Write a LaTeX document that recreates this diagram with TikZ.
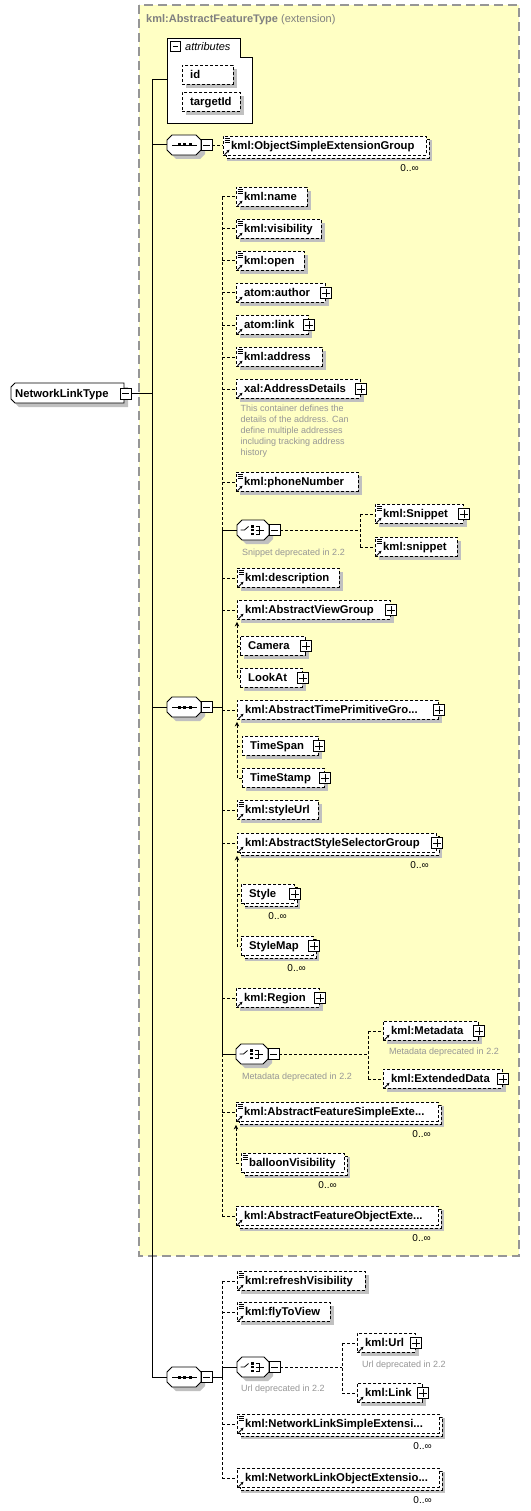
\documentclass[tikz,border=0pt]{standalone}
\usepackage{fontspec}
\setmainfont{Liberation Sans}
\usetikzlibrary{arrows.meta}
\definecolor{shc}{RGB}{192,192,192}
\definecolor{ybg}{RGB}{255,255,196}
\definecolor{ybd}{RGB}{150,150,150}
\definecolor{notec}{RGB}{150,150,150}
\definecolor{titlec}{RGB}{128,128,128}
\tikzset{
 ebox/.style={draw=black, fill=white, line width=0.9pt, dash pattern=on 3pt off 2pt, inner sep=0pt},
 dbox/.style={draw=black, fill=white, line width=0.9pt, dash pattern=on 3pt off 2pt},
 etext/.style={font=\fontsize{11.3}{13}\selectfont\bfseries, inner sep=0pt},
 notetext/.style={font=\fontsize{9}{11}\selectfont, text=notec, inner sep=0pt, align=left},
 mtext/.style={font=\fontsize{10}{12}\selectfont, inner sep=0pt},
 pbox/.style={draw=black, solid, fill=white, line width=0.9pt, minimum size=10.5pt, inner sep=0pt},
 mbox/.style={draw=black, solid, fill=white, line width=0.9pt, minimum size=11pt, inner sep=0pt},
 obox/.style={draw=black, fill=white, line width=0.9pt},
 solidc/.style={draw=black, line width=1pt},
 dashc/.style={draw=black, line width=0.9pt, dash pattern=on 3pt off 2pt},
 icon/.style={draw=black, line width=0.8pt, solid},
 subarrow/.style={dashc, {Stealth[length=4.5pt,width=4.5pt]}-},
}
\newcommand\elbox[6]{%
 \fill[shc] ({#2+4},{#3+4}) rectangle ({#4+4},{#5+4});
 \node[ebox, minimum width={#4-#2}, minimum height={#5-#3}, anchor=north west] (#1) at (#2,#3) {};
 \node[etext, anchor=base west] (#1t) at ([xshift=8pt,yshift=-4pt]#1.west) {#6};}
\newcommand\mulbox[6]{%
 \fill[shc] ({#2+4},{#3+4}) rectangle ({#4+6},{#5+6});
 \draw[dbox] ({#2+3},{#3+3}) rectangle ({#4+3},{#5+3});
 \node[ebox, minimum width={#4-#2}, minimum height={#5-#3}, anchor=north west] (#1) at (#2,#3) {};
 \node[etext, anchor=base west] (#1t) at ([xshift=8pt,yshift=-4pt]#1.west) {#6};}
\newcommand\simp[1]{%
 \fill[white] ([xshift=1pt,yshift=-0.8pt]#1.north west) rectangle ([xshift=7pt,yshift=-6.8pt]#1.north west);
 \draw[icon] ([xshift=1.5pt,yshift=-2pt]#1.north west) -- ++(5pt,0pt);
 \draw[icon] ([xshift=1.5pt,yshift=-4pt]#1.north west) -- ++(5pt,0pt);
 \draw[icon] ([xshift=1.5pt,yshift=-6pt]#1.north west) -- ++(5pt,0pt);}
\newcommand\refi[1]{\draw[icon, -{Stealth[length=3pt,width=3pt]}] ([xshift=1.5pt,yshift=1.2pt]#1.south west) -- ++(5pt,5pt);}
\newcommand\plusb[1]{%
 \node[pbox] (#1p) at (#1.east) {};
 \draw[icon] ([xshift=2pt]#1p.west) -- ([xshift=-2pt]#1p.east);
 \draw[icon] ([yshift=2pt]#1p.south) -- ([yshift=-2pt]#1p.north);}
\newcommand\mlt[1]{\node[mtext, anchor=east] at ([xshift=-8pt,yshift=-12.5pt]#1.south east) {0..∞};}
\newcommand\octa[4]{%
 \begin{scope}[shift={(#2,#3)}]
  \fill[shc] (9,4) -- ({#4-1},4) -- ({#4+4},9) -- ({#4+4},19) -- ({#4-1},24) -- (9,24) -- (4,19) -- (4,9) -- cycle;
  \draw[obox] (5,0) -- ({#4-5},0) -- (#4,5) -- (#4,15) -- ({#4-5},20) -- (5,20) -- (0,15) -- (0,5) -- cycle;
 \end{scope}
 \node[inner sep=0pt, outer sep=0pt, minimum width={#4}, minimum height=20pt, anchor=north west] (#1) at (#2,#3) {};
 \node[mbox] (#1m) at ([xshift=5.5pt]#1.east) {};
 \draw[icon] ([xshift=2.5pt]#1m.west) -- ([xshift=-2.5pt]#1m.east);}
\newcommand\seqn[3]{%
 \octa{#1}{#2}{#3}{34}
 \begin{scope}[shift={(#2,#3)}]
  \draw[icon] (5,10) -- (30,10);
  \fill (10.5,8.5) rectangle (13.5,11.5);
  \fill (16,8.5) rectangle (19,11.5);
  \fill (21.5,8.5) rectangle (24.5,11.5);
 \end{scope}}
\newcommand\choicen[3]{%
 \octa{#1}{#2}{#3}{32}
 \begin{scope}[shift={(#2,#3)}]
  \draw[icon] (3.5,10) -- (7.5,10) -- (11.5,6.5);
  \fill (14,5) rectangle (16.5,7.5);
  \fill (14,8.75) rectangle (16.5,11.25);
  \fill (14,12.5) rectangle (16.5,15);
  \draw[icon] (18.5,6) -- (22,6) -- (22,14) -- (18.5,14);
  \draw[icon] (18.5,10) -- (27,10);
 \end{scope}}
\begin{document}
\begin{tikzpicture}[x=1pt,y=-1pt]
\useasboundingbox (0,0) rectangle (530,1511);
\fill[white] (0,0) rectangle (530,1511);
% extension box
\fill[ybg] (139,5) rectangle (519,1256);
\draw[ybd, line width=1.2pt, dash pattern=on 9pt off 5pt] (139,5) rectangle (519,1256);
\node[font=\fontsize{11}{13}\selectfont, text=titlec, anchor=base west, inner sep=0pt] (title) at (146,23) {\textbf{kml:AbstractFeatureType} (extension)};
% root
\begin{scope}[shift={(11,383)}]
 \fill[shc] (8,4) -- (117,4) -- (117,24) -- (8,24) -- (4,20) -- (4,8) -- cycle;
 \draw[obox] (4,0) -- (113,0) -- (113,20) -- (4,20) -- (0,16) -- (0,4) -- cycle;
\end{scope}
\node[inner sep=0pt, outer sep=0pt, minimum width=113pt, minimum height=20pt, anchor=north west] (root) at (11,383) {};
\node[etext, anchor=base west] (roott) at (15,397) {NetworkLinkType};
\node[mbox] (rootm) at (125.5,393.5) {};
\draw[icon] ([xshift=2.5pt]rootm.west) -- ([xshift=-2.5pt]rootm.east);
% attributes
\draw[obox] (167,38) -- (240,38) -- (240,57) -- (252,57) -- (252,123) -- (167,123) -- cycle;
\node[inner sep=0pt, outer sep=0pt, minimum width=85pt, minimum height=85pt, anchor=north west] (attr) at (167,38) {};
\node[mbox, minimum size=10pt] (attrm) at (175.5,46.5) {};
\draw[icon] ([xshift=2.5pt]attrm.west) -- ([xshift=-2.5pt]attrm.east);
\node[font=\fontsize{11}{13}\selectfont\itshape, inner sep=0pt, anchor=base west] (attrt) at (185,51) {attributes};
\elbox{aid}{182}{65}{233}{84}{id}
\elbox{atid}{182}{92}{240}{111}{targetId}
% sequence 1
\seqn{seqA}{167}{135}
\mulbox{osg}{223}{136}{426}{155}{kml:ObjectSimpleExtensionGroup}\simp{osg}\refi{osg}\mlt{osg}
% sequence 2
\seqn{seqB}{167}{697}
\elbox{ename}{236}{187}{307}{206}{kml:name}\simp{ename}\refi{ename}
\elbox{evis}{236}{219}{321}{238}{kml:visibility}\simp{evis}\refi{evis}
\elbox{eopen}{236}{251}{304}{270}{kml:open}\simp{eopen}\refi{eopen}
\elbox{eauth}{236}{283}{325}{302}{atom:author}\refi{eauth}\plusb{eauth}
\elbox{elink}{236}{315}{308}{334}{atom:link}\refi{elink}\plusb{elink}
\elbox{eaddr}{236}{347}{322}{366}{kml:address}\simp{eaddr}\refi{eaddr}
\elbox{exal}{236}{379}{360}{398}{xal:AddressDetails}\refi{exal}\plusb{exal}
\node[notetext, anchor=north west] (xalnote) at (240.5,404.5) {This container defines the\\details of the address. Can\\define multiple addresses\\including tracking address\\history};
\elbox{ephone}{236}{472}{358}{491}{kml:phoneNumber}\simp{ephone}\refi{ephone}
\choicen{chA}{237}{520}
\node[notetext, anchor=west] (chAnote) at (242,553) {Snippet deprecated in 2.2};
\elbox{esnip}{375}{504}{463}{523}{kml:Snippet}\simp{esnip}\refi{esnip}\plusb{esnip}
\elbox{esnipb}{375}{537}{457}{556}{kml:snippet}\simp{esnipb}\refi{esnipb}
\elbox{edesc}{237}{568}{339}{587}{kml:description}\simp{edesc}\refi{edesc}
\elbox{eavg}{237}{600}{390}{619}{kml:AbstractViewGroup}\refi{eavg}\plusb{eavg}
\elbox{ecam}{240}{636}{305}{655}{Camera}\plusb{ecam}
\elbox{elook}{240}{668}{302}{687}{LookAt}\plusb{elook}
\elbox{eatp}{237}{700}{438}{719}{kml:AbstractTimePrimitiveGro...}\refi{eatp}\plusb{eatp}
\elbox{espan}{242}{736}{318}{755}{TimeSpan}\plusb{espan}
\elbox{estamp}{242}{768}{324}{787}{TimeStamp}\plusb{estamp}
\elbox{esurl}{237}{800}{318}{819}{kml:styleUrl}\simp{esurl}\refi{esurl}
\mulbox{eassg}{237}{833}{436}{852}{kml:AbstractStyleSelectorGroup}\refi{eassg}\plusb{eassg}\mlt{eassg}
\mulbox{estyle}{241}{884}{294}{903}{Style}\plusb{estyle}\mlt{estyle}
\mulbox{esmap}{241}{936}{313}{955}{StyleMap}\plusb{esmap}\mlt{esmap}
\elbox{eregion}{236}{988}{319}{1007}{kml:Region}\refi{eregion}\plusb{eregion}
\choicen{chB}{236}{1044}
\node[notetext, anchor=west] (chBnote) at (242,1077) {Metadata deprecated in 2.2};
\elbox{emeta}{383}{1021}{478}{1040}{kml:Metadata}\refi{emeta}\plusb{emeta}
\node[notetext, anchor=west] (metanote) at (389,1052) {Metadata deprecated in 2.2};
\elbox{eext}{383}{1069}{502}{1088}{kml:ExtendedData}\refi{eext}\plusb{eext}
\mulbox{eafse}{236}{1102}{438}{1121}{kml:AbstractFeatureSimpleExte...}\simp{eafse}\refi{eafse}\mlt{eafse}
\mulbox{eballoon}{241}{1153}{344}{1172}{balloonVisibility}\simp{eballoon}\mlt{eballoon}
\mulbox{eafoe}{236}{1206}{438}{1225}{kml:AbstractFeatureObjectExte...}\refi{eafoe}\mlt{eafoe}
% sequence 3
\seqn{seqC}{167}{1367}
\elbox{erefr}{237}{1271}{365}{1290}{kml:refreshVisibility}\simp{erefr}\refi{erefr}
\elbox{efly}{237}{1302}{330}{1321}{kml:flyToView}\simp{efly}\refi{efly}
\choicen{chC}{237}{1357}
\node[notetext, anchor=west] (chCnote) at (241,1389) {Url deprecated in 2.2};
\elbox{eurl}{357}{1333}{415}{1352}{kml:Url}\refi{eurl}\plusb{eurl}
\node[notetext, anchor=west] (urlnote) at (362,1365) {Url deprecated in 2.2};
\elbox{elnk}{357}{1383}{422}{1402}{kml:Link}\refi{elnk}\plusb{elnk}
\mulbox{enlse}{237}{1414}{439}{1433}{kml:NetworkLinkSimpleExtensi...}\simp{enlse}\refi{enlse}\mlt{enlse}
\mulbox{enloe}{237}{1468}{439}{1487}{kml:NetworkLinkObjectExtensio...}\refi{enloe}\mlt{enloe}
% ---------- connectors ----------
\coordinate (trunk) at (152,80);
\draw[solidc] (rootm.east) -- (rootm.east -| trunk);
\draw[solidc] (trunk) -- (trunk |- seqC.west);
\draw[solidc] (trunk) -- (trunk -| attr.west);
\draw[solidc] (seqA.west -| trunk) -- (seqA.west);
\draw[solidc] (seqB.west -| trunk) -- (seqB.west);
\draw[solidc] (seqC.west -| trunk) -- (seqC.west);
\draw[dashc] (seqAm.east) -- (seqAm.east -| osg.west);
% bus B
\coordinate (busB) at (222,707);
\draw[solidc] (seqBm.east) -- (seqBm.east -| busB);
\draw[dashc] (busB |- ename.west) -- (busB |- chA.west);
\draw[solidc] (busB |- chA.west) -- (busB |- chB.west);
\draw[dashc] (busB |- chB.west) -- (busB |- eafoe.west);
\foreach \n in {ename,evis,eopen,eauth,elink,eaddr,exal,ephone,edesc,eavg,eatp,esurl,eassg,eregion,eafse,eafoe}
  \draw[dashc] (busB |- \n.west) -- (\n.west);
\draw[solidc] (busB |- chA.west) -- (chA.west);
\draw[solidc] (busB |- chB.west) -- (chB.west);
% choice A
\coordinate (brA) at (360,530);
\draw[dashc] (chAm.east) -- (chAm.east -| brA);
\draw[dashc] (brA |- esnip.west) -- (brA |- esnipb.west);
\draw[dashc] (brA |- esnip.west) -- (esnip.west);
\draw[dashc] (brA |- esnipb.west) -- (esnipb.west);
% choice B
\coordinate (brB) at (368,1054);
\draw[dashc] (chBm.east) -- (chBm.east -| brB);
\draw[dashc] (brB |- emeta.west) -- (brB |- eext.west);
\draw[dashc] (brB |- emeta.west) -- (emeta.west);
\draw[dashc] (brB |- eext.west) -- (eext.west);
% substitution groups
\draw[subarrow] ([yshift=-2pt]eavg.south west) -- (eavg.south west |- elook.west) -- (elook.west);
\draw[dashc] (eavg.south west |- ecam.west) -- (ecam.west);
\draw[subarrow] ([yshift=-2pt]eatp.south west) -- (eatp.south west |- estamp.west) -- (estamp.west);
\draw[dashc] (eatp.south west |- espan.west) -- (espan.west);
\draw[subarrow] ([yshift=-3pt]eassg.south west) -- (eassg.south west |- esmap.west) -- (esmap.west);
\draw[dashc] (eassg.south west |- estyle.west) -- (estyle.west);
\draw[subarrow] ([yshift=-3pt]eafse.south west) -- (eafse.south west |- eballoon.west) -- (eballoon.west);
% bus C
\coordinate (busC) at (222,1377);
\draw[solidc] (seqCm.east) -- (seqCm.east -| busC);
\draw[dashc] (busC |- erefr.west) -- (busC |- chC.west);
\draw[solidc] (busC |- chC.west) -- (busC |- seqCm.east);
\draw[dashc] (busC |- seqCm.east) -- (busC |- enloe.west);
\foreach \n in {erefr,efly,enlse,enloe}
  \draw[dashc] (busC |- \n.west) -- (\n.west);
\draw[solidc] (busC |- chC.west) -- (chC.west);
% choice C
\coordinate (brC) at (342,1367);
\draw[dashc] (chCm.east) -- (chCm.east -| brC);
\draw[dashc] (brC |- eurl.west) -- (brC |- elnk.west);
\draw[dashc] (brC |- eurl.west) -- (eurl.west);
\draw[dashc] (brC |- elnk.west) -- (elnk.west);
\end{tikzpicture}
\end{document}
